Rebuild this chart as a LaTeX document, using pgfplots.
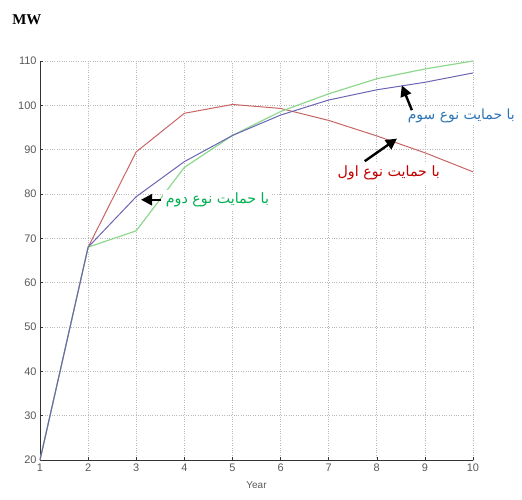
\documentclass[border=0pt]{standalone}
\usepackage{fontspec}
\setmainfont{Liberation Sans}
\newfontfamily\serifbold{Liberation Serif}
\newfontfamily\arabicfont[Script=Arabic]{DejaVu Sans}
\TeXXeTstate=1
\usepackage{pgfplots}
\pgfplotsset{compat=1.18}
\usetikzlibrary{arrows.meta}
\definecolor{redline}{HTML}{C86464}
\definecolor{blueline}{HTML}{6A64B4}
\definecolor{greenline}{HTML}{8ED88E}
\definecolor{redtxt}{HTML}{C00000}
\definecolor{bluetxt}{HTML}{2E75B6}
\definecolor{greentxt}{HTML}{00B050}
\begin{document}
\begin{tikzpicture}
\path[use as bounding box] (-40bp,-40bp) rectangle (482bp,460bp);
\begin{axis}[
  at={(0,0)}, anchor=south west,
  scale only axis, width=433bp, height=399bp,
  xmin=1, xmax=10, ymin=20, ymax=110,
  xtick={1,...,10}, ytick={20,30,...,110},
  axis x line*=bottom, axis y line*=left,
  axis line style={black!80, line width=0.9pt, -},
  tick style={black!80, thin}, tick align=inside, major tick length=3bp,
  grid=major, grid style={dotted, gray!55, line width=0.6pt},
  ticklabel style={font=\fontsize{11}{13}\selectfont, text=black!65},
  /pgf/number format/assume math mode=true,
  xlabel={Year}, xlabel style={font=\fontsize{10}{12}\selectfont, text=black!65, yshift=-4bp},
  clip=false,
]
\addplot[redline, line width=1pt] coordinates {(1,20) (2,68) (3,89.5) (4,98.2) (5,100.2) (6,99.3) (7,96.6) (8,93.1) (9,89.3) (10,85)};
\addplot[greenline, line width=1.2pt] coordinates {(1,20) (2,68) (3,71.7) (4,86) (5,93.2) (6,98.6) (7,102.6) (8,106) (9,108.2) (10,110)};
\addplot[blueline, line width=1pt] coordinates {(1,20) (2,68) (3,79.4) (4,87.3) (5,93.2) (6,97.8) (7,101.2) (8,103.5) (9,105.2) (10,107.3)};
% labels
\node[fill=white, inner sep=2bp, anchor=west, text=bluetxt, font=\arabicfont\fontsize{14}{16}\selectfont] at (axis cs:8.6,97.6) {\beginR با حمایت نوع سوم\endR};
\node[fill=white, inner sep=3bp, anchor=west, text=redtxt, font=\arabicfont\fontsize{14.3}{16}\selectfont] at (axis cs:7.12,84.7) {\beginR با حمایت نوع اول\endR};
\node[fill=white, inner sep=3bp, anchor=west, text=greentxt, font=\arabicfont\fontsize{14.3}{16}\selectfont] at (axis cs:3.55,78.7) {\beginR با حمایت نوع دوم\endR};
% arrows
\draw[-{Triangle[length=11bp,width=11bp]}, line width=2.4pt, black] (axis cs:8.73,98.9) -- (axis cs:8.52,104.5);
\draw[-{Triangle[length=11bp,width=11bp]}, line width=2.4pt, black] (axis cs:7.75,87.4) -- (axis cs:8.42,92.5);
\draw[-{Triangle[length=11bp,width=11bp]}, line width=2.4pt, black] (axis cs:3.52,78.7) -- (axis cs:3.1,78.7);
\node[font=\serifbold\bfseries\fontsize{15}{17}\selectfont, anchor=west] at (rel axis cs:-0.072,1.103) {MW};
\end{axis}
\end{tikzpicture}
\end{document}
